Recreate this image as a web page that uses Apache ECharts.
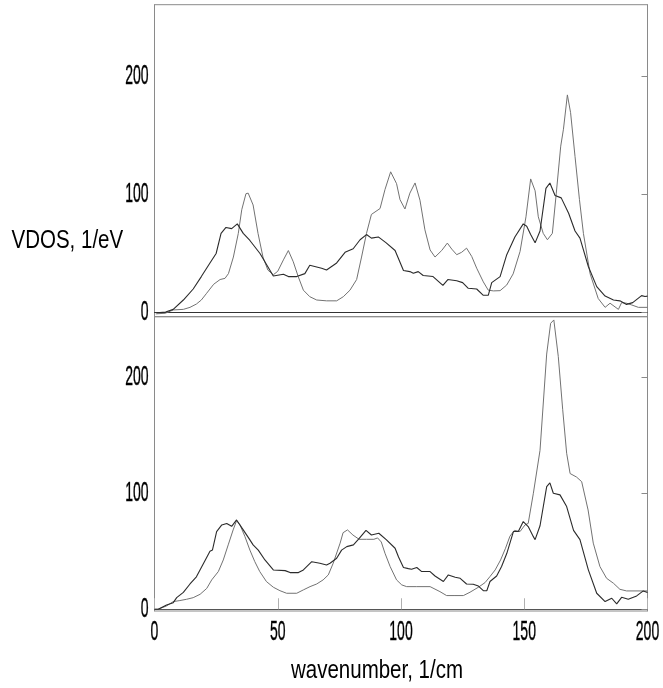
<!DOCTYPE html>
<html>
<head>
<meta charset="utf-8">
<script src="https://cdn.jsdelivr.net/npm/echarts@6/dist/echarts.min.js"></script>
<style>
  html, body { margin: 0; padding: 0; background: #fff; }
  #chart { width: 663px; height: 688px; }
</style>
</head>
<body>
<div id="chart"></div>
<script>
// tick labels
const xTicks = [0, 50, 100, 150, 200];
const yTicks = [0, 100, 200];

// upper panel: [wavenumber, VDOS]
const topDark = [[1,0],[4.5,0.5],[7.6,2.8],[11.7,10.7],[15.7,20],[19,30.5],[22.5,42],[25,50],[27,67],[29,72],[31.3,71],[33.6,75],[36,67],[38.7,61],[42.8,50],[48.2,31],[52.3,32.5],[54.3,30.5],[57.7,30.5],[61,33],[63,40],[65,39],[67.8,37.5],[69.8,36],[73.9,42],[77.3,51],[80.6,54],[83.4,61.6],[86,66],[88,63],[90.8,64],[94,59],[97.6,52.5],[101,35.6],[103.6,34.7],[105,33.3],[107,34.7],[109,31.4],[113,30.5],[117,23],[119,28],[122.6,27],[125,25.4],[127.3,20.6],[130.7,20],[133.4,14.7],[135.4,14.7],[136.8,25.4],[140.2,30.5],[142.9,49],[146.2,64],[149.6,75],[151,73],[152.6,66],[154.4,59],[156.4,69],[158.8,105],[160.4,109.6],[162.5,99],[165,97],[168,84],[170.6,69],[172.6,63],[176,39],[179.4,22],[182.8,14],[186.2,10.7],[188.8,10],[191.5,7],[194,8.5],[197.6,14.4],[199,13.6],[200,14]];
const topGray = [[0.5,-1],[4.3,-0.5],[7.6,2.3],[11.7,2.8],[14.4,4.5],[17,7.3],[19,10.7],[21,16],[24,24],[26.6,28],[28.6,29],[30,33],[32,47],[34,67],[35.4,87],[37.1,100.5],[38,101],[40,91],[42,67],[44,47],[46,36],[48.2,32],[50,35],[52.3,44.6],[54.3,52.5],[56.3,43],[58.3,30.5],[60.4,19],[63,13.5],[65.8,10.7],[69.8,10],[73.9,10],[76.6,13.5],[79.3,19],[82,28],[84,47],[86,67],[88,83],[91.5,88],[93.5,104],[95.8,119],[98.2,109],[99.6,95.5],[101.6,87.6],[103.6,101],[105.7,109.6],[107.7,95],[109.7,70],[111.8,53],[113.8,47],[116.5,52.5],[118.8,58.8],[120.6,53.7],[122.6,49],[124.6,51],[126.6,54.5],[128.7,47.5],[130.7,37.6],[133.4,26],[135.4,19],[137.5,18.4],[140.2,18.6],[142.9,23.4],[145.5,32.8],[148.3,51.7],[150.7,81],[152.6,113],[154.4,103],[155.7,81],[157.7,67],[159.4,61.6],[161.4,67],[163,101],[164.8,140.7],[165.9,155],[167.5,184],[168.8,169],[170.6,132],[172.4,95.5],[174,67],[176.7,33],[180,12],[182.8,4.5],[184.8,8],[188.2,2.8],[189.5,8.5],[191.5,8],[193.6,6.5],[196.3,4.5],[200,4.5]];

// lower panel
const botDark = [[0,0],[1.5,0],[4.9,3.7],[7.6,5.7],[9,10],[11.7,14.5],[14.4,21.8],[17,28],[19,36],[21,44],[22.5,50],[23.5,51],[25.2,67],[27.3,72.7],[29.3,74],[31.3,71.5],[33.3,77],[36,68.4],[38.7,59.8],[40,55.5],[42.1,51],[44.8,42.5],[48.2,33.9],[53,33.3],[55,31.6],[58.4,31.6],[60.4,33.9],[63.8,41],[67.1,39.7],[69.8,38.2],[71.2,39.7],[73.9,44],[75.9,51],[78,54],[80.7,55.5],[82.7,60.3],[85.8,68],[88,64],[91,65.5],[94,60],[97.6,52.6],[99,45],[101,36],[103,35],[104.3,34.5],[106.4,36],[108.4,32.5],[111.8,32.5],[113.8,28.7],[117.2,23.9],[119.2,29.6],[122,27.6],[124,26.7],[126.6,21.8],[129.3,21.6],[131.4,20],[133.4,16],[134.8,16],[136.1,23.9],[138.8,28.7],[140.8,36.8],[142.9,48],[145.6,67],[147.6,67],[149.6,75.6],[151.6,71.3],[153.7,62.6],[154.4,60],[156.4,72],[159.1,105.7],[160.4,109],[161.8,100],[164.5,98.6],[167.2,88.5],[170,68],[172.6,60],[176,34],[179.4,13.8],[182.8,6.6],[185.5,9.5],[187.5,4.6],[189.5,10.3],[192.2,8.6],[195.6,11.5],[198.3,15.8],[200,14.5]];
const botGray = [[0,0],[1.5,0],[4.9,2.9],[7.6,6.6],[10.3,7.5],[13,8.6],[15.7,10],[18.5,12.9],[21.2,18],[23.2,25.3],[25.9,32.5],[27.9,42.5],[29.9,55.5],[31.9,68.4],[33.3,76.4],[34.7,72.7],[36.7,62.6],[38.7,51],[40.7,41],[42.7,32.5],[45.4,23.9],[48.2,19],[50.9,16],[53.6,13.8],[57.7,13.8],[60.4,16.7],[63.1,19.5],[65.8,21.8],[68.4,25.3],[70.5,29.6],[72.5,39.7],[75.3,57],[76.5,66],[78.3,68.4],[80.5,64],[83,60.3],[86,60.3],[89,60.3],[90.5,61.5],[92,58],[93.5,48.3],[95.6,36.8],[98.2,25.3],[100.3,21],[102.3,19.5],[106.4,19.5],[111.8,19.5],[115.8,15.2],[118.5,11.8],[121.9,11.8],[125.3,11.8],[128,14.7],[131.4,19],[134.1,23],[136.1,28.2],[138.2,33.9],[140.4,42.5],[142.4,52.6],[144.2,63],[146,68],[148.3,67],[150.3,72.7],[151.6,74],[153.7,100],[156.4,137],[159.1,220],[160.7,246.5],[162,249.4],[163.8,218],[165.6,172],[167.2,134.5],[168.6,117],[171.2,114],[173.3,110],[175.9,85.6],[178,57],[180.7,36.8],[183.4,26.7],[186.2,22.4],[188.8,17.2],[191.5,15.8],[200,15.8]];

const yName = 'VDOS, 1/eV';
const xName = 'wavenumber, 1/cm';

// narrow (squeezed) fonts like the original plot
const tickFont = '28px "Liberation Sans", Arial, sans-serif';
const nameFont = '25px "Liberation Sans", Arial, sans-serif';

const myChart = echarts.init(document.getElementById('chart'));

function leftAxis(g, min, max) {
    return {
        type: 'value', gridIndex: g, min: min, max: max,
        axisLine: { show: true, lineStyle: { color: '#8a8a8a', width: 1 } },
        axisTick: { show: false },
        splitLine: { show: false },
        axisLabel: { show: false }
    };
}
function rightAxis(g, min, max) {
    return {
        type: 'value', gridIndex: g, min: min, max: max, position: 'right',
        axisLine: { show: true, lineStyle: { color: '#8a8a8a', width: 1 } },
        axisTick: { show: true, inside: true, length: 6, customValues: yTicks,
            lineStyle: { color: '#8a8a8a' } },
        splitLine: { show: false },
        axisLabel: { show: false }
    };
}
function line(xi, yi, data, color, w) {
    return {
        type: 'line', xAxisIndex: xi, yAxisIndex: yi, data: data,
        showSymbol: false, animation: false,
        lineStyle: { color: color, width: w }
    };
}

let option = {
    backgroundColor: '#fff',
    animation: false,
    grid: [
        { left: 154.5, right: 15.5, top: 4.7, height: 312, show: true, outerBoundsMode: 'none',
          borderColor: '#8a8a8a', borderWidth: 1, backgroundColor: 'transparent' },
        { left: 154.5, right: 15.5, top: 316.7, height: 294.3, show: true, outerBoundsMode: 'none',
          borderColor: '#8a8a8a', borderWidth: 1, backgroundColor: 'transparent' }
    ],
    xAxis: [
        { type: 'value', gridIndex: 0, min: 0, max: 200, interval: 50,
          axisLine: { show: true, lineStyle: { color: '#333', width: 1 } },
          axisTick: { show: false },
          axisLabel: { show: false },
          splitLine: { show: false } },
        { type: 'value', gridIndex: 1, min: 0, max: 200, interval: 50,
          axisLine: { show: true, lineStyle: { color: '#555', width: 1 } },
          axisTick: { show: true, inside: true, length: 11, lineStyle: { color: '#b0b0b0' } },
          axisLabel: { show: false },
          splitLine: { show: false } }
    ],
    yAxis: [
        leftAxis(0, -3.4, 260.2),
        rightAxis(0, -3.4, 260.2),
        leftAxis(1, -1.5, 252.2),
        rightAxis(1, -1.5, 252.2)
    ],
    series: [
        line(0, 0, topGray, '#727272', 1),
        line(0, 0, topDark, '#2b2b2b', 1.1),
        line(1, 2, botGray, '#727272', 1),
        line(1, 2, botDark, '#2b2b2b', 1.1)
    ]
};

myChart.setOption(option);

// tick labels and axis names, squeezed horizontally, placed from the axes
function txt(str, x, y, font, sx, align, sw) {
    return {
        type: 'text', x: x, y: y, scaleX: sx, silent: true,
        style: { text: str, font: font, fill: '#000',
            stroke: sw ? '#000' : null, lineWidth: sw || 0,
            align: align, textAlign: align,
            verticalAlign: 'middle', textVerticalAlign: 'middle' }
    };
}
let labels = [];
const x0 = myChart.convertToPixel({ xAxisIndex: 1 }, 0);
const axisBottom = myChart.convertToPixel({ yAxisIndex: 2 }, -1.5);
[0, 2].forEach(function (yi) {
    yTicks.forEach(function (v) {
        labels.push(txt(String(v), x0 - 6,
            myChart.convertToPixel({ yAxisIndex: yi }, v), tickFont, 0.5, 'right', 0.4));
    });
});
xTicks.forEach(function (v) {
    labels.push(txt(String(v), myChart.convertToPixel({ xAxisIndex: 1 }, v),
        axisBottom + 21, tickFont, 0.5, 'center', 0.4));
});
labels.push(txt(yName, 11.5, 241, nameFont, 0.82, 'left', 0));
labels.push(txt(xName, 377, 671, nameFont, 0.82, 'center', 0));
myChart.setOption({ graphic: labels });
</script>
</body>
</html>
